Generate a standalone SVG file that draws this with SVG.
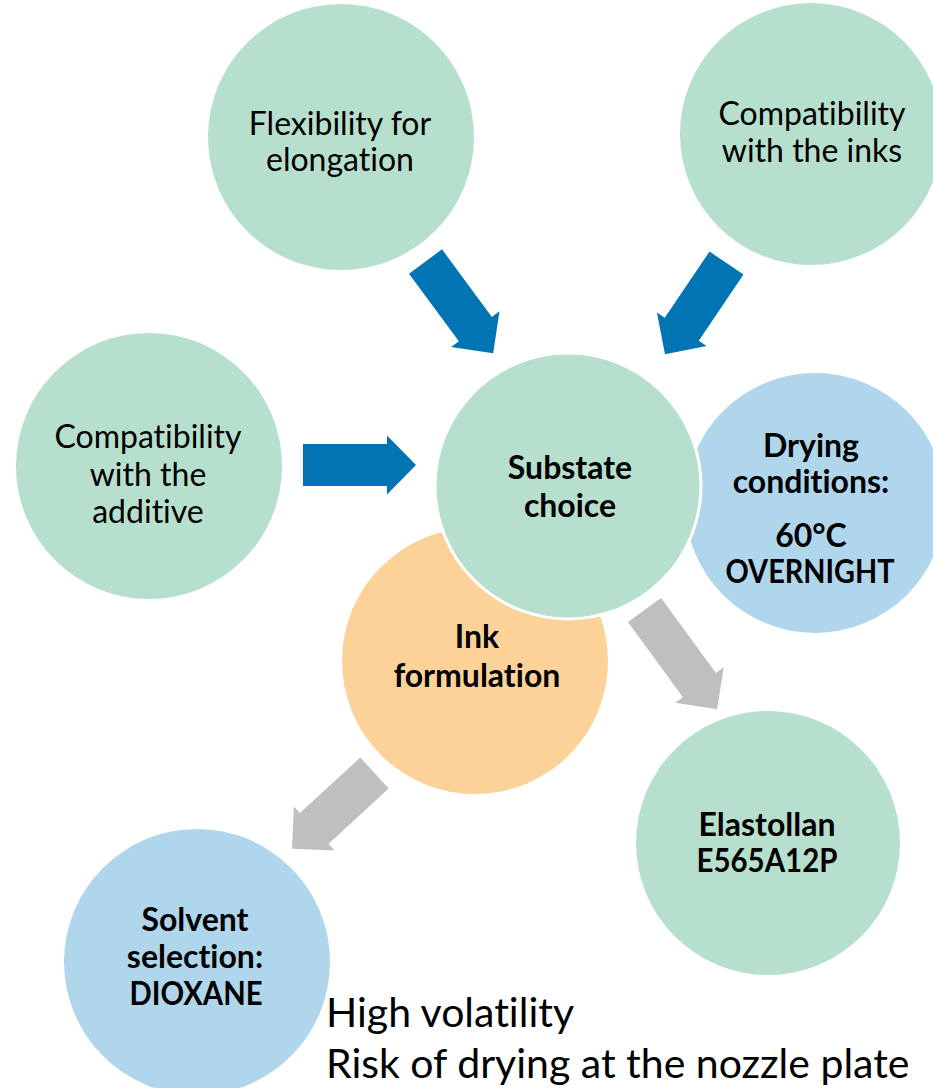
<svg xmlns="http://www.w3.org/2000/svg" width="933" height="1088" viewBox="0 0 933 1088">
  <style>
    .green { fill: #B7DFCD; }
    .sky { fill: #B0D6EC; }
    .peach { fill: #FDD299; }
    .edge { stroke: #FFFFFF; stroke-width: 3; }
    text { font-family: Lato, "Liberation Sans", sans-serif; fill: #000; font-variant-ligatures: none; }
    .reg { font-size: 32px; text-anchor: middle; }
    .bold { font-size: 32px; font-weight: bold; text-anchor: middle; }
    .note { font-size: 41px; }
    .blue-arrow { fill: #0175B4; }
    .gray-arrow { fill: #BFBFBF; }
  </style>

  <!-- outer requirement bubbles -->
  <g id="node-flexibility">
    <circle class="green" cx="341" cy="137" r="133"/>
    <text class="reg" x="340" y="135">Flexibility for</text>
    <text class="reg" x="340" y="171">elongation</text>
  </g>
  <g id="node-inks">
    <circle class="green" cx="811" cy="134" r="131"/>
    <text class="reg" x="812" y="125">Compatibility</text>
    <text class="reg" x="812" y="162">with the inks</text>
  </g>
  <g id="node-additive">
    <circle class="green" cx="149" cy="466" r="133"/>
    <text class="reg" x="148" y="448">Compatibility</text>
    <text class="reg" x="148" y="486">with the</text>
    <text class="reg" x="148" y="523">additive</text>
  </g>

  <!-- process bubbles -->
  <g id="node-drying">
    <circle class="sky" cx="815" cy="503" r="130"/>
    <text class="bold" x="811" y="457">Drying</text>
    <text class="bold" x="811" y="493">conditions:</text>
    <text class="bold" x="811" y="547">60°C</text>
    <text class="bold" x="810" y="583" textLength="169" lengthAdjust="spacingAndGlyphs">OVERNIGHT</text>
  </g>
  <g id="node-ink-formulation">
    <circle class="peach" cx="475" cy="661" r="133"/>
    <text class="bold" x="477" y="648">Ink</text>
    <text class="bold" x="477" y="687">formulation</text>
  </g>
  <g id="node-substrate">
    <circle class="green edge" cx="568" cy="486" r="133"/>
    <text class="bold" x="570" y="479">Substate</text>
    <text class="bold" x="570" y="517">choice</text>
  </g>
  <g id="node-elastollan">
    <circle class="green" cx="768" cy="843" r="132"/>
    <text class="bold" x="767" y="836">Elastollan</text>
    <text class="bold" x="767" y="872" textLength="141" lengthAdjust="spacingAndGlyphs">E565A12P</text>
  </g>
  <g id="node-solvent">
    <circle class="sky" cx="197" cy="962" r="133"/>
    <text class="bold" x="195" y="931">Solvent</text>
    <text class="bold" x="195" y="968">selection:</text>
    <text class="bold" x="196" y="1005" textLength="133" lengthAdjust="spacingAndGlyphs">DIOXANE</text>
  </g>

  <!-- block arrows: tail at origin, pointing along +x -->
  <g id="connectors">
    <polygon class="blue-arrow" transform="translate(425.5,261.5) rotate(53.6)" points="0,-20.5 84,-20.5 84,-30 114,0 84,30 84,20.5 0,20.5"/>
    <polygon class="blue-arrow" transform="translate(726.5,263) rotate(124)" points="0,-20.5 80,-20.5 80,-30 110,0 80,30 80,20.5 0,20.5"/>
    <polygon class="blue-arrow" transform="translate(303,465) rotate(0)" points="0,-21 84,-21 84,-29.5 113,0 84,29.5 84,21 0,21"/>
    <polygon class="gray-arrow" transform="translate(644.5,610) rotate(53.8)" points="0,-20.5 93,-20.5 93,-30 123,0 93,30 93,20.5 0,20.5"/>
    <polygon class="gray-arrow" transform="translate(374.5,773) rotate(137.4)" points="0,-21 82,-21 82,-30 112,0 82,30 82,21 0,21"/>
  </g>

  <g id="note-solvent">
    <text class="note" x="326" y="1027">High volatility</text>
    <text class="note" x="326" y="1078">Risk of drying at the nozzle plate</text>
  </g>
</svg>
